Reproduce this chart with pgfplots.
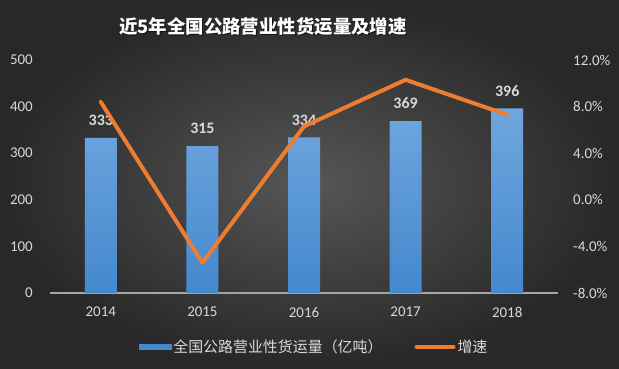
\documentclass[border=0pt]{standalone}
\usepackage{fontspec}
\setmainfont{Carlito}
\newfontfamily\cjk{Noto Sans CJK SC}
\usepackage{pgfplots}
\pgfplotsset{compat=1.18}
\definecolor{bgA}{RGB}{86,86,86}
\definecolor{bgB}{RGB}{40,40,40}
\definecolor{tickc}{RGB}{217,217,217}
\definecolor{barTop}{RGB}{112,166,222}
\definecolor{barBot}{RGB}{68,136,206}
\definecolor{orangeL}{RGB}{237,125,49}
\definecolor{baseL}{RGB}{166,166,166}
\begin{document}
\begin{tikzpicture}[x=1bp,y=1bp]
\shade[inner color=bgA, outer color=bgB] (0,0) rectangle (619,368);
\useasboundingbox (0,0) rectangle (619,368);
\node[font=\cjk\bfseries\fontsize{18.5}{20}\selectfont, text=black, opacity=0.6] at (263.8,340) {近5年全国公路营业性货运量及增速};
\node[font=\cjk\bfseries\fontsize{18.5}{20}\selectfont, text=white] at (263,341) {近5年全国公路营业性货运量及增速};
\begin{axis}[
  at={(50bp,75bp)}, anchor=south west, scale only axis,
  width=508bp, height=233bp,
  xmin=-0.5, xmax=4.5, ymin=0, ymax=500,
  ytick={0,100,...,500},
  xtick={0,1,2,3,4},
  xticklabels={2014,2015,2016,2017,2018},
  axis x line*=bottom, axis y line*=left,
  x axis line style={baseL, line width=1.5bp, -},
  y axis line style={draw=none},
  major tick length=0pt,
  tick style={draw=none},
  /pgf/number format/assume math mode=true,
  ticklabel style={font=\fontsize{15}{18}\selectfont, text=tickc, inner sep=0pt},
  yticklabel style={anchor=east, xshift=-17bp},
  xticklabel style={anchor=north, yshift=-14bp},
]
\addplot[ybar, bar width=32bp, draw=none, top color=barTop, bottom color=barBot,
  nodes near coords,
  nodes near coords style={font=\bfseries\fontsize{16}{18}\selectfont, text=tickc, inner sep=0pt, anchor=south, yshift=12bp}]
  coordinates {(0,333) (1,315) (2,334) (3,369) (4,396)};
\end{axis}
\begin{axis}[
  at={(50bp,75bp)}, anchor=south west, scale only axis,
  width=508bp, height=233bp,
  xmin=-0.5, xmax=4.5, ymin=-8, ymax=12,
  ytick={-8,-4,0,4,8,12},
  axis y line*=right, axis x line=none,
  y axis line style={draw=none},
  major tick length=0pt,
  tick style={draw=none},
  /pgf/number format/assume math mode=true,
  yticklabel={\pgfmathprintnumber[fixed,fixed zerofill,precision=1]{\tick}\%},
  ticklabel style={font=\fontsize{15}{18}\selectfont, text=tickc, inner sep=0pt},
  yticklabel style={anchor=west, xshift=15bp},
  legend style={at={(0.52,-0.232)}, anchor=center, draw=none, fill=none,
    text=tickc, font=\fontsize{15}{18}\selectfont,
    /tikz/every even column/.append style={column sep=30bp}},
  legend columns=2,
]
\addlegendimage{legend image code/.code={\fill[barBot] (0bp,-2.5bp) rectangle (32bp,2.5bp);}}
\addlegendentry{\cjk 全国公路营业性货运量（亿吨）}
\addplot[orangeL, line width=4bp, line join=round, line cap=round,
  legend image code/.code={\draw[orangeL, line width=4bp, line cap=round] (0bp,0bp) -- (37bp,0bp);}]
  coordinates {(0,8.4) (1,-5.4) (2,6.3) (3,10.3) (4,7.3)};
\addlegendentry{\cjk 增速}
\end{axis}
\end{tikzpicture}
\end{document}
